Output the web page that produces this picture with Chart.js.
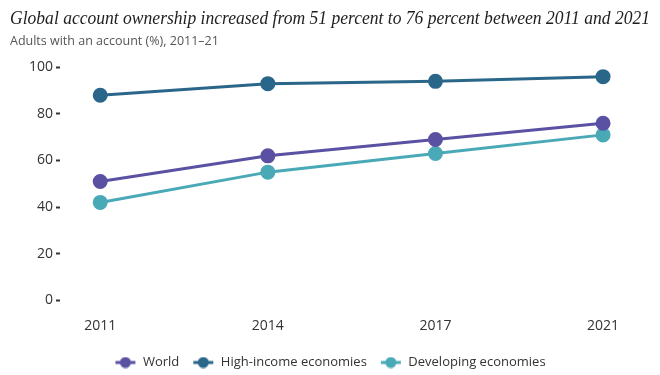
<!DOCTYPE html>
<html>
<head>
<meta charset="utf-8">
<script src="https://cdn.jsdelivr.net/npm/chart.js@4"></script>
<style>
  html, body { margin: 0; padding: 0; background: #fff; }
</style>
</head>
<body>
<canvas id="myChart" width="660" height="375"></canvas>
<script>
// data
const years = ['2011', '2014', '2017', '2021'];
const world = [51, 62, 69, 76];
const highIncome = [88, 93, 94, 96];
const developing = [42, 55, 63, 71];
const yTicks = [0, 20, 40, 60, 80, 100];

const colors = {
  world: '#5a51a3',
  high: '#2a6689',
  dev: '#4aa9b6'
};

function toPoints(arr) {
  return arr.map((v, i) => ({x: i, y: v}));
}

// little line + dot swatch for the legend
function legendIcon(color) {
  let c = document.createElement('canvas');
  c.width = 22;
  c.height = 12;
  let g = c.getContext('2d');
  g.strokeStyle = color;
  g.lineWidth = 3;
  g.beginPath();
  g.moveTo(1, 6);
  g.lineTo(21, 6);
  g.stroke();
  g.fillStyle = color;
  g.beginPath();
  g.arc(11, 6, 5.5, 0, Math.PI * 2);
  g.fill();
  return c;
}

function makeSet(label, data, color) {
  return {
    label: label,
    data: toPoints(data),
    borderColor: color,
    backgroundColor: color,
    pointBackgroundColor: color,
    pointBorderColor: color,
    borderWidth: 3,
    pointRadius: 6,
    pointHoverRadius: 6,
    clip: false
  };
}

let ctx = document.getElementById('myChart').getContext('2d');

const myChart = new Chart(ctx, {
  type: 'line',
  data: {
    datasets: [
      makeSet('World', world, colors.world),
      makeSet('High-income economies', highIncome, colors.high),
      makeSet('Developing economies', developing, colors.dev)
    ]
  },
  options: {
    responsive: false,
    animation: false,
    layout: {padding: {left: 10, right: 10, top: 4, bottom: -4}},
    plugins: {
      title: {
        display: true,
        text: 'Global account ownership increased from 51 percent to 76 percent between 2011 and 2021',
        align: 'start',
        color: '#1e1e1e',
        font: {family: 'Liberation Serif', style: 'italic', size: 17.8, weight: 'normal'},
        padding: {top: 5, bottom: 4}
      },
      subtitle: {
        display: true,
        text: 'Adults with an account (%), 2011\u201321',
        align: 'start',
        color: '#555',
        font: {family: 'Open Sans', size: 12.5},
        padding: {top: 0, bottom: 18}
      },
      legend: {
        position: 'bottom',
        labels: {
          usePointStyle: true,
          pointStyleWidth: 22,
          color: '#333',
          font: {family: 'Open Sans', size: 13},
          padding: 13,
          generateLabels: function(chart) {
            return chart.data.datasets.map((ds, i) => ({
              text: ds.label,
              pointStyle: legendIcon(ds.borderColor),
              fillStyle: ds.borderColor,
              strokeStyle: ds.borderColor,
              lineWidth: 0,
              hidden: false,
              datasetIndex: i,
              fontColor: '#333'
            }));
          }
        }
      },
      tooltip: {enabled: false}
    },
    scales: {
      x: {
        type: 'linear',
        min: -0.24,
        max: 3.28,
        grid: {display: false},
        border: {display: false},
        afterBuildTicks: function(scale) {
          scale.ticks = years.map((y, i) => ({value: i}));
        },
        ticks: {
          color: '#333',
          font: {family: 'Open Sans', size: 14},
          padding: 9,
          maxRotation: 0,
          callback: function(v) { return years[v]; }
        }
      },
      y: {
        min: 0,
        max: 100,
        afterBuildTicks: function(scale) {
          scale.ticks = yTicks.map(v => ({value: v}));
        },
        afterFit: function(scale) { scale.width = 50; },
        grid: {
          drawOnChartArea: false,
          drawTicks: true,
          tickLength: 4,
          tickWidth: 2,
          color: '#333'
        },
        border: {display: false},
        ticks: {
          color: '#333',
          font: {family: 'Open Sans', size: 14},
          padding: 3
        }
      }
    }
  }
});
</script>
</body>
</html>
